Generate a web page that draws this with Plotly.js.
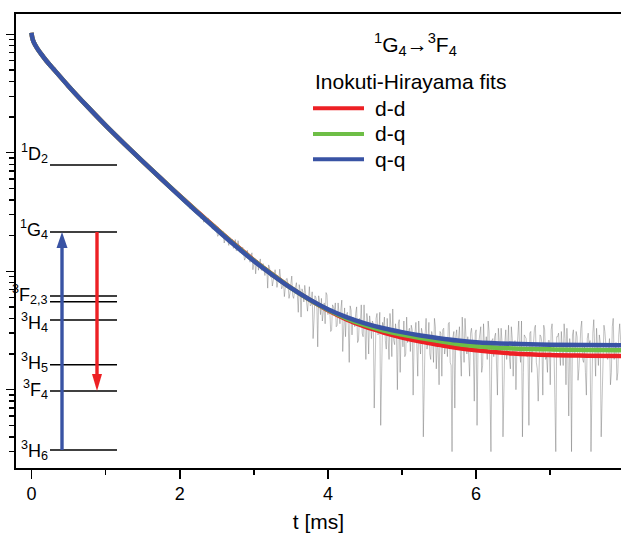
<!DOCTYPE html>
<html>
<head>
<meta charset="utf-8">
<script src="https://cdn.plot.ly/plotly-3.0.1.min.js"></script>
<style>html,body{margin:0;padding:0;background:#fff;}#chart{width:621px;height:533px;}</style>
</head>
<body>
<div id="chart"></div>
<script>
// ---- data (intensity in arbitrary counts, log scale) ----
const fitT  = [0, 0.01, 0.03, 0.077, 0.122, 0.2, 0.3, 0.5, 0.75, 1.0, 1.25, 1.5, 1.75, 2.0, 2.25, 2.5, 2.75, 3.0, 3.25, 3.5, 3.75, 4.0, 4.25, 4.5, 4.75, 5.0, 5.25, 5.5, 5.75, 6.0, 6.5, 7.0, 7.5, 8.0];
const fitQQ = [10300, 9400, 8570, 7600, 6925, 5977, 5070, 3648, 2472, 1702, 1194, 845, 603, 431, 309, 224, 164, 122, 93, 72.2, 57.8, 47.8, 41.0, 36.3, 33.0, 30.6, 28.7, 27.2, 26.0, 25.2, 24.4, 24.0, 23.8, 23.7];
const fitDQ = [10300, 9400, 8570, 7600, 6925, 5977, 5070, 3648, 2472, 1702, 1194, 845, 603, 432, 311, 226, 165.5, 123, 93.5, 72.3, 57.6, 47.2, 40.0, 35.0, 31.6, 29.2, 27.3, 25.7, 24.3, 23.3, 22.3, 21.9, 21.6, 21.5];
const fitDD = [10300, 9400, 8570, 7600, 6925, 5977, 5070, 3648, 2472, 1702, 1194, 845, 603, 434, 313, 228, 167, 124, 94, 72.5, 57.5, 46.8, 39.2, 34.0, 30.4, 27.6, 25.5, 23.9, 22.5, 21.5, 20.2, 19.6, 19.35, 19.2];

// measured decay (sampled from t = 1.9 ms every 0.0125 ms)
const dataT0 = 1.9;
const dataDT = 0.0125;
const dataCounts = [
 496,479, 464,479, 469,438, 441,442, 446,433, 408,408, 404,413, 372,373, 383,374, 376,339,
 350,359, 334,342, 349,316, 306,315, 311,318, 308,278, 285,293, 259,278, 278,256, 276,279,
 246,247, 250,228, 228,242, 247,238, 222,197, 202,218, 215,206, 214,216, 173,187, 199,197,
 179,165, 192,180, 174,185, 156,161, 185,149, 150,181, 157,144, 146,153, 159,143, 124,129,
 143,150, 135,127, 119,135, 143,103, 119,129, 95,119, 123,102, 116,127, 102,102, 116,103,
 92,108, 105,72, 113,107, 89,97, 75,83, 96,103, 88,73, 81,85, 104,90, 71,74,
 83,61, 75,86, 87,77, 59,65, 79,91, 62,59, 67,72, 80,63, 45,77, 69,41,
 71,67, 55,76, 62,50, 46,58, 74,51, 52,67, 27,39, 62,60, 54,23, 62,55,
 43,59, 38,45, 54,36, 66,63, 43,48, 47,31, 32,52, 50,46, 54,34, 35,54,
 40,36, 48,57, 21,40, 49,28, 43,45, 35,17, 51,47, 29,41, 37,34, 44,50,
 25,26, 40,36, 52,30, 28,52, 33,18, 44,38, 20,42, 36,27, 38,36, 7,19,
 40,44, 29,30, 45,5, 23,37, 33,41, 26,22, 40,30, 18,44, 34,19, 48,26,
 24,36, 29,10, 36,39, 14,30, 31,23, 38,19, 20,41, 25,31, 33,21, 35,32,
 9,25, 29,37, 23,13, 38,28, 20,33, 30,4, 16,30, 40,22, 26,37, 20,18,
 31,28, 17,40, 34,15, 24,23, 11,31, 30,13, 32,33, 20,25, 27,19, 36,37,
 17,16, 3,28, 31,7, 28,32, 22,27, 34,20, 13,41, 25,17, 40,23, 20,28,
 17,13, 30,33, 26,21, 8,30, 32,5, 22,25, 28,34, 14,16, 36,23, 23,28,
 18,38, 31,11, 3,26, 27,19, 28,30, 15,9, 33,27, 20,33, 25,4, 11,25,
 32,18, 23,35, 18,15, 34,27, 13,24, 26,10, 21,30, 38,21, 17,38, 4,14,
 29,28, 27,19, 20,5, 30,31, 14,23, 25,33, 35,17, 15,8, 22,29, 28,25,
 9,35, 32,18, 19,14, 26,26, 11,32, 36,22, 24,5, 3,28, 28,30, 20,16,
 31,24, 16,36, 27,11, 33,20, 6,27, 22,3, 29,32, 19,21, 31,28, 12,15,
 26,33, 38,18, 17,24, 14,9, 27,30, 24,26, 3,16, 30,39, 20,13, 33,20,
 16,29, 25,4, 9,26, 35,31, 23,19, 18,23, 27,11, 14,34, 40,18, 21,25,
 12,14, 29,36, 26,20, 7
];

const seriesNames = ['d-d', 'd-q', 'q-q'];
const xTickVals = [0, 2, 4, 6];
const xMinorVals = [1, 3, 5, 7];
const yTickVals = [10, 100, 1000, 10000];
const yMinorVals = [2,3,4,5,6,7,8,9, 20,30,40,50,60,70,80,90, 200,300,400,500,600,700,800,900, 2000,3000,4000,5000,6000,7000,8000,9000];

const levelNames = ['<sup>1</sup>D<sub>2</sub>', '<sup>1</sup>G<sub>4</sub>', '<sup>3</sup>F<sub>2,3</sub>', '', '<sup>3</sup>H<sub>4</sub>', '<sup>3</sup>H<sub>5</sub>', '<sup>3</sup>F<sub>4</sub>', '<sup>3</sup>H<sub>6</sub>'];

// ---- styling / layout helpers ----
const RED = 'rgb(237,32,36)', GREEN = 'rgb(110,190,70)', BLUE = 'rgb(57,83,164)';
const FONT = 'Liberation Sans, Arial, Helvetica, sans-serif';
const W = 621, H = 533, ML = 16, MR = 0, MT = 14, MB = 65;
const px = x => (x - ML) / (W - ML - MR);
const py = y => (H - MB - y) / (H - MT - MB);

const levelLineY = [165, 232, 296, 301.7, 320, 364.7, 391, 450];
const levelLabelY = [153, 229, 294, null, 322, 362, 389, 450];

const shapes = [];
const annotations = [];
levelLineY.forEach(y => shapes.push({type:'line', xref:'paper', yref:'paper', x0:px(50), x1:px(117), y0:py(y), y1:py(y), line:{color:'black', width:1.6}}));
levelNames.forEach((n, i) => { if (n) annotations.push({xref:'paper', yref:'paper', x:px(50), y:py(levelLabelY[i]), xanchor:'right', yanchor:'middle', text:n, showarrow:false, font:{family:FONT, size:18, color:'black'}}); });

// excitation (blue, up) and emission (red, down) arrows
shapes.push({type:'line', xref:'paper', yref:'paper', x0:px(62), x1:px(62), y0:py(450), y1:py(246), line:{color:BLUE, width:3.4}});
shapes.push({type:'path', xref:'paper', yref:'paper', path:`M${px(62)},${py(232)} L${px(56.5)},${py(248)} L${px(67.5)},${py(248)} Z`, fillcolor:BLUE, line:{color:BLUE, width:0}});
shapes.push({type:'line', xref:'paper', yref:'paper', x0:px(97), x1:px(97), y0:py(232), y1:py(376), line:{color:RED, width:3.4}});
shapes.push({type:'path', xref:'paper', yref:'paper', path:`M${px(97)},${py(391)} L${px(92)},${py(374)} L${px(102)},${py(374)} Z`, fillcolor:RED, line:{color:RED, width:0}});

// legend (drawn manually for exact spacing)
const legColors = [RED, GREEN, BLUE];
const legY = [108.3, 134, 159.3];
legColors.forEach((c, i) => {
  shapes.push({type:'line', xref:'paper', yref:'paper', x0:px(313), x1:px(364), y0:py(legY[i]), y1:py(legY[i]), line:{color:c, width:4}});
  annotations.push({xref:'paper', yref:'paper', x:px(373), y:py(legY[i]), xanchor:'left', yanchor:'middle', text:seriesNames[i], showarrow:false, font:{family:FONT, size:21, color:'black'}});
});
annotations.push({xref:'paper', yref:'paper', x:px(313), y:py(81), xanchor:'left', yanchor:'middle', text:'Inokuti-Hirayama fits', showarrow:false, font:{family:FONT, size:21, color:'black'}});
annotations.push({xref:'paper', yref:'paper', x:px(415), y:py(45), xanchor:'center', yanchor:'middle', text:'<sup>1</sup>G<sub>4</sub>\u2192<sup>3</sup>F<sub>4</sub>', showarrow:false, font:{family:FONT, size:21, color:'black'}});

const traces = [
  {x0:dataT0, dx:dataDT, y:dataCounts, type:'scatter', mode:'lines', name:'data', line:{color:'rgba(95,95,95,0.55)', width:0.7}, showlegend:false, hoverinfo:'skip'},
  {x:fitT, y:fitDD, type:'scatter', mode:'lines', name:seriesNames[0], line:{color:RED, width:4.5, shape:'spline', smoothing:1.0}, showlegend:false},
  {x:fitT, y:fitDQ, type:'scatter', mode:'lines', name:seriesNames[1], line:{color:GREEN, width:4.5, shape:'spline', smoothing:1.0}, showlegend:false},
  {x:fitT, y:fitQQ, type:'scatter', mode:'lines', name:seriesNames[2], line:{color:BLUE, width:4.5, shape:'spline', smoothing:1.0}, showlegend:false}
];

const layout = {
  width: W, height: H,
  margin: {l:ML, r:MR, t:MT, b:MB, pad:0},
  paper_bgcolor: 'white', plot_bgcolor: 'white',
  showlegend: false,
  font: {family: FONT, color: 'black'},
  xaxis: {
    range: [-0.209, 7.955], showgrid:false, zeroline:false,
    showline:true, linecolor:'black', linewidth:1.6, mirror:true,
    ticks:'outside', ticklen:9, tickwidth:1.6, tickcolor:'black',
    tickmode:'array', tickvals:xTickVals, ticktext:xTickVals.map(String),
    tickfont:{family:FONT, size:18, color:'black'},
    minor:{tickmode:'array', tickvals:xMinorVals, ticks:'outside', ticklen:5, tickwidth:1.6, tickcolor:'black', showgrid:false},
    title:{text:'t [ms]', font:{family:FONT, size:21, color:'black'}, standoff:12}
  },
  yaxis: {
    type:'log', range:[0.339, 4.171], showgrid:false, zeroline:false,
    showline:true, linecolor:'black', linewidth:1.6, mirror:false,
    ticks:'outside', ticklen:8, tickwidth:1.4, tickcolor:'black',
    tickmode:'array', tickvals:yTickVals, showticklabels:false,
    minor:{tickmode:'array', tickvals:yMinorVals, ticks:'outside', ticklen:5, tickwidth:1.4, tickcolor:'black', showgrid:false}
  },
  shapes: shapes,
  annotations: annotations
};

Plotly.newPlot('chart', traces, layout, {displayModeBar:false, staticPlot:true});
</script>
</body>
</html>
